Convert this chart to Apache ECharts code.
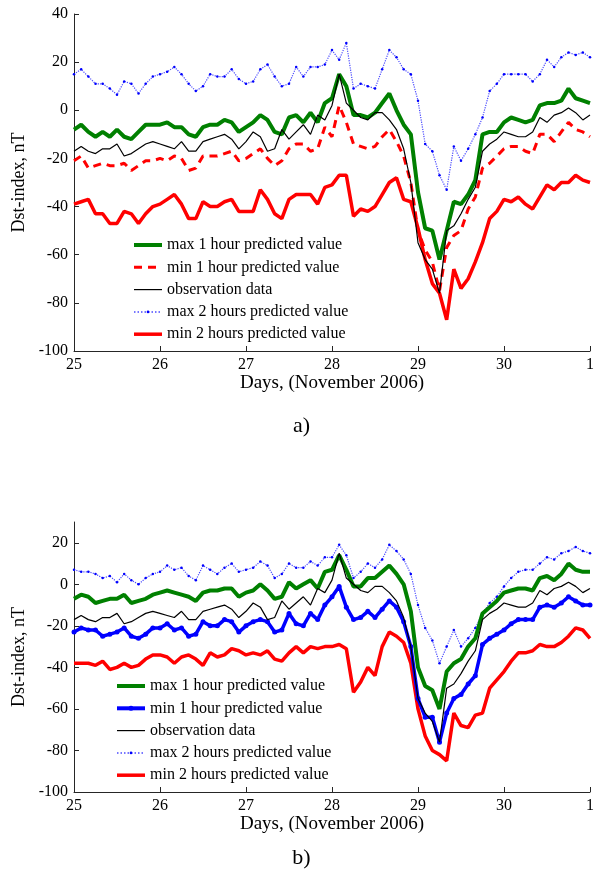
<!DOCTYPE html>
<html><head><meta charset="utf-8">
<script src="https://cdn.jsdelivr.net/npm/echarts@6/dist/echarts.min.js"></script>
<style>html,body{margin:0;padding:0;background:#fff;width:603px;height:874px;overflow:hidden}
.c{position:absolute;left:0;top:0;width:603px;height:874px}</style>
</head><body><div id="a" class="c"></div><div id="b" class="c"></div>
<script>
// x: days of November 2006, sampled every 2 hours from day 25 to day 31 (= Dec 1)
const startDay = 25;
const stepDay = 1 / 12;
const xTickLabels = {25:'25',26:'26',27:'27',28:'28',29:'29',30:'30',31:'1'};
const seriesNames = ['max 1 hour predicted value','min 1 hour predicted value','observation data','max 2 hours predicted value','min 2 hours predicted value'];

const observation = [-17,-15,-17,-18,-16,-16,-14,-19,-18,-16,-14,-13,-14,-15,-16,-13,-17,-17,-13,-12,-11,-10,-12,-16,-13,-9,-11,-17,-16,-8,-12,-9,-6,-10,-2,-4,
  2,15,3,0,-3,-4,-1,-1,-4,-8,-16,-30,-55,-62,-66,-76,-50,-48,-43,-37,-32,-17,-14,-12,-9,-10,-11,-11,-9,-3,-5,-2,-1,1,-1,-4,-2];

// panel a
const maxOneA = [-8,-6,-9,-11,-9,-11,-8,-11,-12,-9,-6,-6,-6,-5,-7,-7,-10,-11,-7,-6,-6,-4,-5,-9,-7,-5,-2,-4,-9,-10,-3,-2,-5,-1,-5,3,
  5,15,10,-2,-2,-3,-1,3,7,0,-6,-10,-34,-49,-50,-62,-50,-38,-39,-35,-29,-10,-9,-9,-5,-3,-4,-5,-4,2,3,3,4,9,5,4,3];
const minOneA = [-21,-19,-24,-23,-22,-23,-23,-22,-25,-23,-21,-21,-20,-21,-19,-20,-25,-24,-19,-19,-19,-18,-17,-21,-20,-18,-16,-20,-23,-21,-16,-14,-14,-17,-16,-7,
  -11,2,-5,-14,-15,-16,-15,-11,-8,-13,-19,-30,-50,-58,-63,-75,-57,-52,-50,-41,-36,-24,-22,-19,-16,-15,-15,-17,-18,-10,-10,-13,-9,-5,-8,-9,-11];
const maxTwoA = [15,17,14,11,11,9,6.5,12,11,7,11,14,15,16,18,15,11,8,10,15,14,14,17,13,11,12,17,19,14,10,11,18,14,18,18,19,
  25,21,28,9,11,10,9,17,25,22,17,15,4,-14,-17,-27,-33,-15,-21,-16,-10,-3,8,11,15,15,15,15,12,15,21,18,22,24,23,24,22];
const minTwoA = [-39,-38,-37,-43,-43,-47,-47,-42,-43,-47,-43,-40,-39,-37,-35,-39,-45,-45,-38,-40,-40,-38,-37,-42,-42,-42,-33,-37,-43,-45,-37,-35,-35,-35,-39,-32,
  -31,-27,-27,-44,-41,-42,-40,-35,-30,-28,-37,-38,-49,-62,-72,-76,-87,-66,-74,-70,-63,-55,-45,-42,-37,-38,-36,-39,-41,-36,-31,-33,-30,-30,-27,-29,-30];

// panel b
const maxOneB = [-7,-5,-6,-9,-8,-7,-7,-5,-9,-8,-7,-5,-4,-3,-4,-5,-6,-8,-4,-3,-3,-2,-2,-6,-4,-3,0,-3,-7,-6,1,-2,0,2,-2,6,
  7,14,7,-1,-1,3,3,6,9,5,0,-13,-40,-49,-51,-60,-42,-38,-36,-30,-26,-14,-11,-8,-4,-3,-2,-2,-3,3,4,2,5,10,7,6,6];
const minOneB = [-23,-21,-22,-22,-25,-24,-23,-21,-25,-26,-24,-21,-21,-19,-22,-21,-25,-24,-18,-20,-20,-17,-18,-23,-20,-18,-17,-18,-23,-22,-14,-19,-20,-14,-17,-10,
  -6,-1,-11,-17,-16,-13,-16,-12,-8,-11,-18,-30,-55,-64,-64,-76,-62,-55,-53,-48,-44,-29,-26,-24,-22,-19,-17,-17,-17,-11,-10,-11,-9,-6,-8,-10,-10];
const maxTwoB = [7,6,6,5,3,4,1,5,2,0,3,5,6,9,7,8,4,2,9,7,5,8,10,6,7,8,11,9,3,5,10,8,8,11,9,13,
  13,19,14,3,6,10,8,12,19,16,12,5,-10,-21,-27,-38,-30,-22,-30,-26,-21,-14,-9,-6,-1,3,6,7,7,10,13,12,15,16,18,16,15];
const minTwoB = [-38,-38,-38,-39,-37,-41,-40,-38,-40,-39,-36,-34,-34,-35,-38,-35,-34,-36,-39,-33,-35,-34,-31,-32,-34,-33,-34,-32,-36,-37,-33,-30,-33,-30,-31,-30,
  -30,-29,-31,-52,-47,-40,-44,-30,-23,-25,-28,-38,-60,-73,-80,-82,-85,-62,-68,-69,-63,-62,-50,-46,-42,-37,-33,-33,-32,-29,-30,-30,-28,-25,-21,-22,-26];

const FONT = 'Liberation Serif';
function pairs(arr){ return arr.map((v,i)=>[startDay + i*stepDay, v]); }

// manual legend: styles per row
function legendGraphics(x0, y0, gap, styles){
  const g = [];
  styles.forEach((s,k)=>{
    const y = y0 + k*gap;
    g.push({type:'line', shape:{x1:x0, y1:y, x2:x0+28, y2:y},
      style:{stroke:s.color, lineWidth:s.width, lineDash:s.dash || null}});
    if (s.dot) g.push({type:'circle', shape:{cx:x0+14, cy:y, r:s.dot}, style:{fill:s.dotColor || s.color}});
    g.push({type:'text', x:x0+33, y:y, style:{text:seriesNames[k], font:'16px "'+FONT+'"', fill:'#000', verticalAlign:'middle', align:'left'}});
  });
  return g;
}

function panel(el, o){
  const chart = echarts.init(document.getElementById(el), null, {renderer:'canvas'});
  const axisColor = '#262626';
  chart.setOption({
    backgroundColor:'transparent',
    animation:false,
    grid:{left:74, right:13, top:o.top, bottom:o.bottom, containLabel:false},
    xAxis:{type:'value', min:25, max:31, interval:1,
      name:'Days, (November 2006)', nameLocation:'middle', nameGap:20,
      nameTextStyle:{fontFamily:FONT, fontSize:19, color:'#000'},
      axisLine:{onZero:false, lineStyle:{color:axisColor, width:1}},
      axisTick:{inside:true, length:5, lineStyle:{color:axisColor}},
      axisLabel:{fontFamily:FONT, fontSize:16, color:'#000', margin:6, formatter:v=>xTickLabels[v] ?? ''},
      splitLine:{show:false}},
    yAxis:{type:'value', min:-100, max:o.ymax, interval:20,
      name:'Dst-index, nT', nameLocation:'middle', nameGap:39,
      nameTextStyle:{fontFamily:FONT, fontSize:18, color:'#000'},
      axisLine:{show:true, onZero:false, lineStyle:{color:axisColor, width:1}},
      axisTick:{show:true, inside:true, length:5, lineStyle:{color:axisColor}},
      axisLabel:{fontFamily:FONT, fontSize:16, color:'#000', margin:6, showMaxLabel:o.showMax,
        formatter:v=> (v % 20 === 0) ? String(v) : ''},
      splitLine:{show:false}},
    graphic:[{type:'text', left:'center', top:o.labelTop, style:{text:o.label, font:'22px "'+FONT+'"', fill:'#000'}},
      ...legendGraphics(o.legLeft, o.legTop, 22.3, o.legend)],
    series:o.series
  });
}

const greenS = d=>({name:seriesNames[0], type:'line', data:pairs(d), symbol:'none', z:3,
  lineStyle:{color:'#008000', width:4}, itemStyle:{color:'#008000'}});
const blackS = d=>({name:seriesNames[2], type:'line', data:pairs(d), symbol:'none', z:5,
  lineStyle:{color:'#000', width:1.2}, itemStyle:{color:'#000'}});
const blueDotS = d=>({name:seriesNames[3], type:'line', data:pairs(d), symbol:'circle', symbolSize:2.5, z:2,
  lineStyle:{color:'#4a4aff', width:1.2, type:'dotted'}, itemStyle:{color:'#0000ff'}});
const redS = d=>({name:seriesNames[4], type:'line', data:pairs(d), symbol:'none', z:2,
  lineStyle:{color:'#ff0000', width:3.5}, itemStyle:{color:'#ff0000'}});

const legGreen = {color:'#008000', width:4};
const legBlack = {color:'#000', width:1.2};
const legBlueDot = {color:'#4a4aff', width:1.5, dash:[1.5,2], dot:1.3, dotColor:'#0000ff'};
const legRed = {color:'#ff0000', width:3.5};

panel('a', {top:14, bottom:523, ymax:40, showMax:true, legLeft:134, legTop:245, label:'a)', labelTop:415,
  legend:[legGreen, {color:'#ff0000', width:3, dash:[8,6]}, legBlack, legBlueDot, legRed],
  series:[greenS(maxOneA),
    {name:seriesNames[1], type:'line', data:pairs(minOneA), symbol:'none', z:4,
      lineStyle:{color:'#ff0000', width:3, type:[8,6]}, itemStyle:{color:'#ff0000'}},
    blackS(observation), blueDotS(maxTwoA), redS(minTwoA)]});

panel('b', {top:522, bottom:82, ymax:30, showMax:false, legLeft:117, legTop:686, label:'b)', labelTop:847,
  legend:[legGreen, {color:'#0000ff', width:4, dot:2.5}, legBlack, legBlueDot, legRed],
  series:[greenS(maxOneB),
    {name:seriesNames[1], type:'line', data:pairs(minOneB), symbol:'circle', symbolSize:5, z:4,
      lineStyle:{color:'#0000ff', width:3.5}, itemStyle:{color:'#0000ff'}},
    blackS(observation), blueDotS(maxTwoB), redS(minTwoB)]});
</script></body></html>
